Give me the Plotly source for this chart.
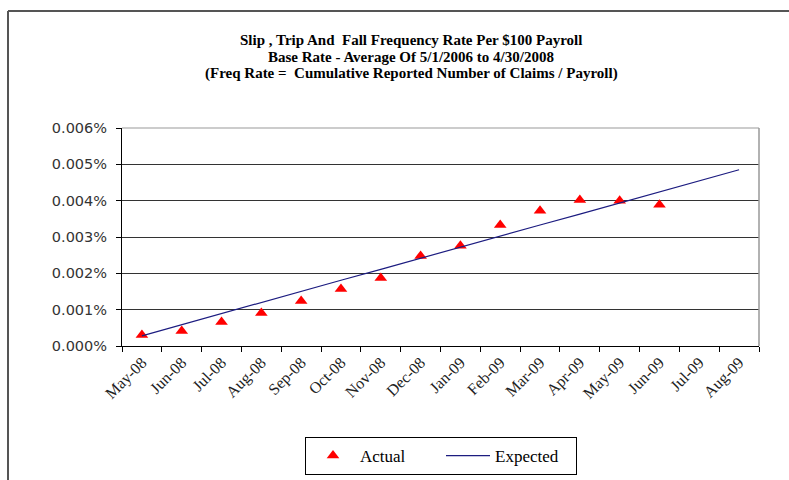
import plotly.graph_objects as go

months = ["May-08", "Jun-08", "Jul-08", "Aug-08", "Sep-08", "Oct-08", "Nov-08", "Dec-08",
          "Jan-09", "Feb-09", "Mar-09", "Apr-09", "May-09", "Jun-09", "Jul-09", "Aug-09"]
actual = [0.00030, 0.00041, 0.00066, 0.00091, 0.00124, 0.00157, 0.00187, 0.00248,
          0.00276, 0.00333, 0.00372, 0.00402, 0.00400, 0.00389]
expected = [0.00028, 0.00059, 0.00089, 0.00120, 0.00150, 0.00181, 0.00211, 0.00242,
            0.00272, 0.00302, 0.00333, 0.00363, 0.00394, 0.00424, 0.00455, 0.00485]
ytick_vals = [0.000, 0.001, 0.002, 0.003, 0.004, 0.005, 0.006]
title_lines = ["Slip , Trip And  Fall Frequency Rate Per $100 Payroll",
               "Base Rate - Average Of 5/1/2006 to 4/30/2008",
               "(Freq Rate =  Cumulative Reported Number of Claims / Payroll)"]

W, H = 789, 480
ML, MR, MT, MB = 122, 30, 128, 134
PW, PH = W - ML - MR, H - MT - MB

def px(x):
    return (x - ML) / PW

def py(y):
    return (H - MB - y) / PH

fig = go.Figure()
fig.add_trace(go.Scatter(
    x=months[:len(actual)], y=actual, mode="markers", name="Actual",
    marker=dict(symbol="triangle-up", color="#ff0000", size=11, line=dict(width=0)),
))
fig.add_trace(go.Scatter(
    x=months, y=expected, mode="lines", name="Expected",
    line=dict(color="#1c1c80", width=1.2),
))

serif = "Liberation Serif, Times New Roman, serif"

annotations = []
for i, t in enumerate(title_lines):
    annotations.append(dict(
        text="<b>" + t + "</b>", xref="paper", yref="paper",
        x=px(411), y=py(40 + 17 * i), xanchor="center", yanchor="middle",
        showarrow=False, font=dict(family=serif, size=15, color="#000"),
    ))

shapes = [
    dict(type="line", xref="paper", yref="paper", x0=px(8), x1=px(8), y0=py(11), y1=py(490),
         line=dict(color="#555", width=2)),
    dict(type="line", xref="paper", yref="paper", x0=px(8), x1=px(800), y0=py(11), y1=py(11),
         line=dict(color="#555", width=2)),
    dict(type="line", xref="paper", yref="paper", x0=0, x1=1, y0=1, y1=1,
         line=dict(color="#999", width=1)),
    dict(type="line", xref="paper", yref="paper", x0=1, x1=1, y0=0, y1=1,
         line=dict(color="#999", width=1.5)),
]

fig.update_layout(
    width=W, height=H,
    margin=dict(l=ML, r=MR, t=MT, b=MB, pad=0, autoexpand=False),
    paper_bgcolor="white", plot_bgcolor="white",
    showlegend=True,
    legend=dict(
        orientation="h", x=px(441), xanchor="center", y=py(437), yanchor="top",
        bordercolor="#000", borderwidth=1, bgcolor="white",
        font=dict(family=serif, size=17, color="#000"),
        itemwidth=44, entrywidth=76,
    ),
    annotations=annotations,
    shapes=shapes,
    xaxis=dict(
        type="category", categoryorder="array", categoryarray=months,
        range=[-0.5, len(months) - 0.5],
        tickson="boundaries", ticks="outside", ticklen=5, tickcolor="#000",
        showline=True, linecolor="#000", linewidth=1, showgrid=False,
        tickangle=-45, tickfont=dict(family=serif, size=16, color="#222"),
        automargin=False,
    ),
    yaxis=dict(
        range=[0, 0.006], tickvals=ytick_vals,
        ticktext=[f"{v:.3f}%" for v in ytick_vals],
        ticks="outside", ticklen=5, tickcolor="#000",
        showline=True, linecolor="#000", linewidth=1,
        showgrid=True, gridcolor="#333", gridwidth=1, zeroline=False,
        ticklabelstandoff=6, automargin=False,
        tickfont=dict(family="DejaVu Sans, Verdana, sans-serif", size=14.5, color="#333"),
    ),
)

fig.write_html("out.html")
